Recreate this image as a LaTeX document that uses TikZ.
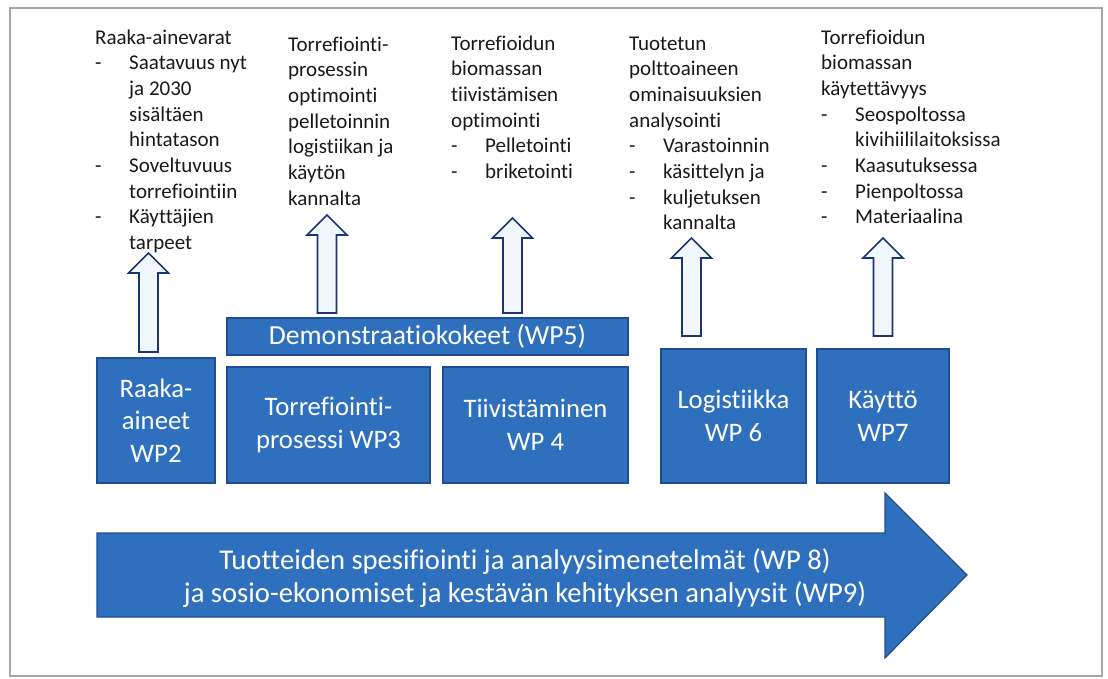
\documentclass[tikz,border=0pt]{standalone}
\usepackage{fontspec}
\setmainfont{Carlito}[Ligatures=NoCommon]
\definecolor{wpblue}{RGB}{46,112,190}
\definecolor{wpedge}{RGB}{32,78,145}
\definecolor{arredge}{RGB}{28,52,115}
\definecolor{arrfill}{RGB}{242,247,252}
\newcommand{\itm}[1]{\makebox[34pt][l]{-}#1}
\newcommand{\cnt}[1]{\hspace*{34pt}#1}
\begin{document}
\begin{tikzpicture}[x=1pt,y=-1pt,
  wpbox/.style={draw=wpedge, line width=1.2pt, fill=wpblue, text=white, align=center, inner sep=0pt, font=\fontsize{26.7}{32.5}\selectfont},
  hollow/.style={draw=arredge, line width=1.6pt, fill=arrfill},
  note/.style={anchor=base west, align=left, inner sep=0pt, text=black!90, font=\fontsize{21}{25.7}\selectfont}]
\useasboundingbox (0,0) rectangle (1108,678);
\draw[gray!70, line width=1.5pt] (10,8) rectangle (1102,676);
% work packages
\node[wpbox, minimum width=118pt, minimum height=125pt] (wp2) at (156,420.5) {Raaka-\\aineet\\WP2};
\node[wpbox, minimum width=203pt, minimum height=116pt] (wp3) at (328.5,425) {Torrefiointi-\\prosessi WP3};
\node[wpbox, minimum width=185pt, minimum height=116pt] (wp4) at (535.5,425) {Tiivistäminen\\WP 4};
\node[wpbox, minimum width=401pt, minimum height=37pt, font=\fontsize{27.6}{32.5}\selectfont] (wp5) at (427.5,336.5) {Demonstraatiokokeet (WP5)};
\node[wpbox, minimum width=145pt, minimum height=134pt] (wp6) at (733.5,416) {Logistiikka\\WP 6};
\node[wpbox, minimum width=132pt, minimum height=134pt] (wp7) at (883,416) {Käyttö\\WP7};
% big arrow
\draw[fill=wpblue, draw=wpedge, line width=1.2pt] (97,533) -- (885,533) -- (885,493) -- (967,575) -- (885,658) -- (885,617) -- (97,617) -- cycle;
\node[text=white, align=center, font=\fontsize{28.6}{33.5}\selectfont] (wp89) at (525,578) {Tuotteiden spesifiointi ja analyysimenetelmät (WP 8)\\ja sosio-ekonomiset ja kestävän kehityksen analyysit (WP9)};
% hollow arrows
\foreach \cx/\yb/\yt in {148.5/352/253, 327/313/215, 512.5/313/218, 691.5/336/238, 883/336/238}
  \draw[hollow] (\cx-9.5,\yb) -- (\cx-9.5,\yt+20) -- (\cx-20,\yt+20) -- (\cx,\yt) -- (\cx+20,\yt+20) -- (\cx+9.5,\yt+20) -- (\cx+9.5,\yb) -- cycle;
% texts on top (base = last line)
\node[note] (raw) at (95,249.6) {Raaka-ainevarat\\ \itm{Saatavuus nyt}\\ \cnt{ja 2030}\\ \cnt{sisältäen}\\ \cnt{hintatason}\\ \itm{Soveltuvuus}\\ \cnt{torrefiointiin}\\ \itm{Käyttäjien}\\ \cnt{tarpeet}};
\node[note] (proc) at (288,205.2) {Torrefiointi-\\prosessin\\optimointi\\pelletoinnin\\logistiikan ja\\käytön\\kannalta};
\node[note] (dens) at (451,178.5) {Torrefioidun\\biomassan\\tiivistämisen\\optimointi\\ \itm{Pelletointi}\\ \itm{briketointi}};
\node[note] (fuel) at (629,229.9) {Tuotetun\\polttoaineen\\ominaisuuksien\\analysointi\\ \itm{Varastoinnin}\\ \itm{käsittelyn ja}\\ \itm{kuljetuksen}\\ \cnt{kannalta}};
\node[note] (use) at (821,223.9) {Torrefioidun\\biomassan\\käytettävyys\\ \itm{Seospoltossa}\\ \cnt{kivihiililaitoksissa}\\ \itm{Kaasutuksessa}\\ \itm{Pienpoltossa}\\ \itm{Materiaalina}};
\end{tikzpicture}
\end{document}
